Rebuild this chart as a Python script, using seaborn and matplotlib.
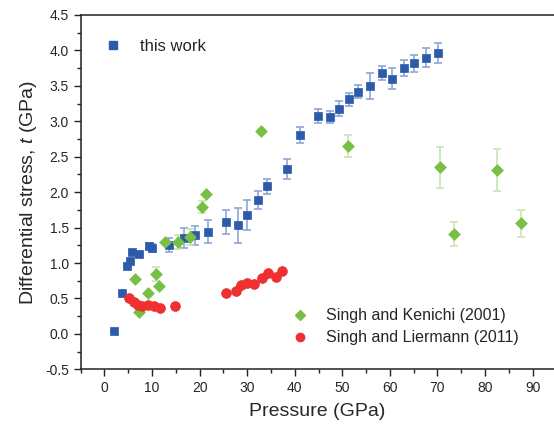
import numpy as np
import pandas as pd
import matplotlib
matplotlib.use("Agg")
import matplotlib.pyplot as plt
import seaborn as sns
from matplotlib.lines import Line2D

# ---- data ----
work_p = [2.0, 3.65, 4.8, 5.4, 5.7, 7.2, 9.4, 9.9, 13.6, 16.7, 19.1, 21.7, 25.6, 28.0,
          29.9, 32.2, 34.2, 38.3, 41.1, 44.8, 47.5, 49.4, 51.3, 53.4, 55.8, 58.3, 60.4,
          62.9, 65.0, 67.5, 70.1]
work_t = [0.04, 0.57, 0.96, 1.03, 1.16, 1.13, 1.24, 1.21, 1.26, 1.35, 1.39, 1.44, 1.58, 1.53,
          1.68, 1.89, 2.08, 2.33, 2.81, 3.07, 3.06, 3.18, 3.31, 3.42, 3.50, 3.68, 3.60,
          3.75, 3.82, 3.90, 3.96]
work_err = [0.0, 0.0, 0.02, 0.02, 0.02, 0.03, 0.04, 0.06, 0.10, 0.14, 0.13, 0.16, 0.17, 0.25,
            0.21, 0.13, 0.10, 0.14, 0.11, 0.10, 0.09, 0.10, 0.09, 0.09, 0.18, 0.10, 0.15,
            0.11, 0.12, 0.13, 0.14]

kenichi_p = [6.4, 7.3, 9.2, 10.8, 11.4, 12.7, 15.5, 18.0, 20.5, 21.4, 32.9, 51.2, 70.6, 73.4, 82.5, 87.6]
kenichi_t = [0.78, 0.31, 0.58, 0.85, 0.68, 1.29, 1.30, 1.37, 1.79, 1.98, 2.86, 2.65, 2.35, 1.41, 2.31, 1.56]
kenichi_err = [0.0, 0.0, 0.0, 0.10, 0.0, 0.0, 0.10, 0.11, 0.08, 0.0, 0.0, 0.15, 0.29, 0.17, 0.30, 0.19]

liermann_p = [5.1, 6.2, 7.0, 7.9, 9.1, 10.5, 11.7, 14.8, 25.6, 27.7, 28.7, 29.9, 31.5, 33.1, 34.3, 36.0, 37.4]
liermann_t = [0.51, 0.45, 0.41, 0.40, 0.41, 0.40, 0.36, 0.40, 0.58, 0.61, 0.69, 0.72, 0.71, 0.79, 0.86, 0.80, 0.89]

x_ticks = [0, 10, 20, 30, 40, 50, 60, 70, 80, 90]
y_ticks = [-0.5, 0.0, 0.5, 1.0, 1.5, 2.0, 2.5, 3.0, 3.5, 4.0, 4.5]

# ---- style ----
sns.set_style("ticks")
plt.rcParams['font.family'] = ['Liberation Sans', 'DejaVu Sans']
plt.rcParams['mathtext.fontset'] = 'custom'
plt.rcParams['mathtext.it'] = 'Liberation Sans:italic'
plt.rcParams['mathtext.rm'] = 'Liberation Sans'

blue = "#2B5BAA"
green = "#76C043"
red = "#EE3030"
blue_light = "#8FA6D4"
green_light = "#C9E4B2"

fig = plt.figure(figsize=(5.54, 4.32), dpi=100)
ax = fig.add_axes([80.7 / 554, 1 - 369.3 / 432, 1 - 80.7 / 554, (369.3 - 15) / 432])

df_w = pd.DataFrame({"P": work_p, "t": work_t, "e": work_err})
df_k = pd.DataFrame({"P": kenichi_p, "t": kenichi_t, "e": kenichi_err})
df_l = pd.DataFrame({"P": liermann_p, "t": liermann_t})

# error bars
ax.errorbar(df_w["P"], df_w["t"], yerr=df_w["e"], fmt="none", ecolor=blue_light,
            elinewidth=1.2, capsize=3, capthick=1.2, zorder=1)
ax.errorbar(df_k["P"], df_k["t"], yerr=df_k["e"], fmt="none", ecolor=green_light,
            elinewidth=1.2, capsize=3, capthick=1.2, zorder=1)

sns.scatterplot(data=df_w, x="P", y="t", marker="s", s=40, color=blue, edgecolor=blue,
                linewidth=0.5, ax=ax, zorder=3)
sns.scatterplot(data=df_k, x="P", y="t", marker="D", s=36, color=green, edgecolor=green,
                linewidth=0.5, ax=ax, zorder=3)
sns.scatterplot(data=df_l, x="P", y="t", marker="o", s=50, color=red, edgecolor=red,
                linewidth=0.5, ax=ax, zorder=3)

ax.set_xlim(-4.7, 94.5)
ax.set_ylim(-0.5, 4.5)
ax.set_xticks(x_ticks)
ax.set_yticks(y_ticks)
ax.set_yticklabels([f"{v:.1f}" for v in y_ticks])
ax.set_xticks(np.arange(-5, 95, 5), minor=True)
ax.set_yticks(np.arange(-0.5, 4.5, 0.25), minor=True)
ax.tick_params(axis="both", which="major", direction="out", length=5, width=1, labelsize=10, color="#222222")
ax.tick_params(axis="both", which="minor", direction="out", length=3, width=1, color="#222222")

for side in ["left", "bottom", "top"]:
    ax.spines[side].set_linewidth(1.1)
    ax.spines[side].set_color("#222222")
ax.spines["right"].set_visible(False)

ax.set_xlabel("Pressure (GPa)", fontsize=14, labelpad=6)
ax.set_ylabel(r"Differential stress, $\it{t}$ (GPa)", fontsize=14, labelpad=4)

h1 = [Line2D([], [], marker="s", ls="none", color=blue, markersize=6)]
leg1 = ax.legend(h1, ["this work"], loc="upper left", bbox_to_anchor=(0.019, 0.976),
                 frameon=False, fontsize=12, handletextpad=1.1, handlelength=1.0)
ax.add_artist(leg1)
h2 = [Line2D([], [], marker="D", ls="none", color=green, markersize=5.5),
      Line2D([], [], marker="o", ls="none", color=red, markersize=6)]
ax.legend(h2, ["Singh and Kenichi (2001)", "Singh and Liermann (2011)"], loc="lower left",
          bbox_to_anchor=(0.416, 0.027), frameon=False, fontsize=11.5, handletextpad=1.1,
          handlelength=1.0, labelspacing=0.45)

fig.savefig("out.png", dpi=100)
